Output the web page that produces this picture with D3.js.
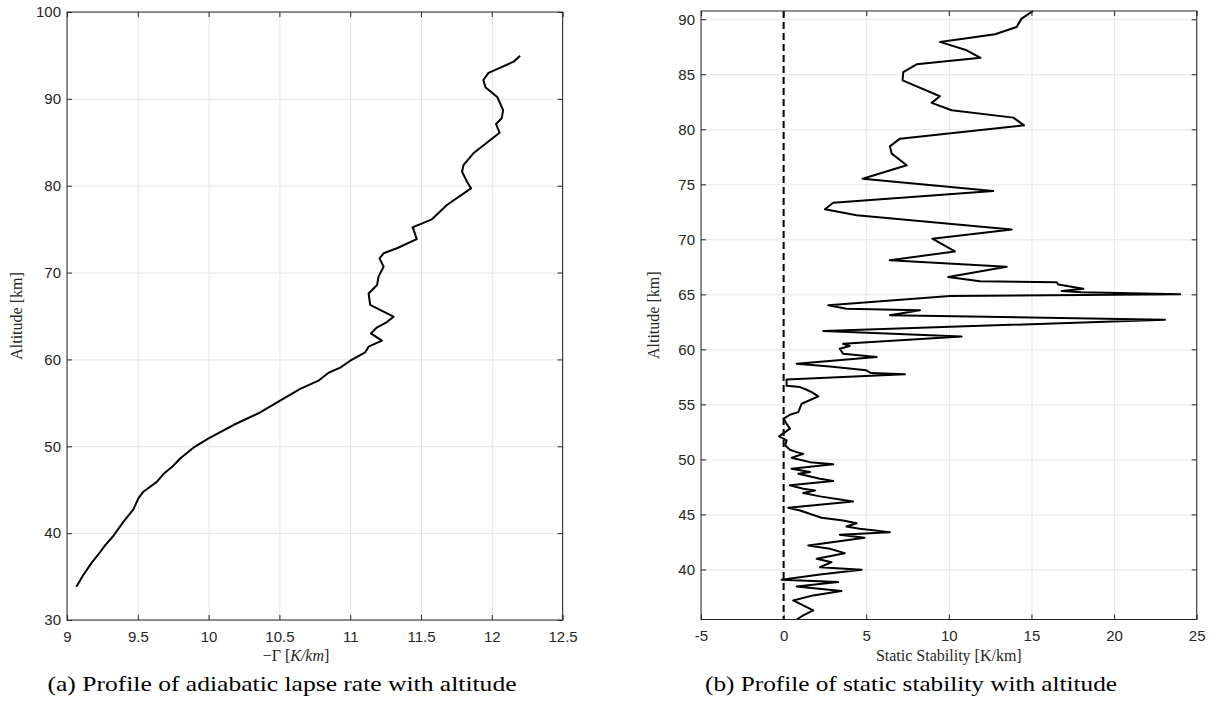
<!DOCTYPE html>
<html>
<head>
<meta charset="utf-8">
<script src="https://cdn.jsdelivr.net/npm/d3@7"></script>
<style>
  html, body { margin: 0; padding: 0; background: #ffffff; }
  svg { display: block; }
</style>
</head>
<body>
<script>
// ---------------- DATA ----------------
// Panel (a): adiabatic lapse rate profile
const lapseAlt = [33.83, 35.18, 36.6, 37.8, 38.6, 39.67, 41.3, 42.74, 44.0, 44.77, 45.9, 46.8, 47.77, 48.6, 49.84, 50.9, 52.45, 53.9, 55.4, 56.6, 57.55, 58.47, 59.05, 59.85, 60.82, 61.47, 62.16, 63.0, 63.7, 64.3, 64.92, 66.27, 67.6, 68.57, 69.53, 70.68, 71.64, 72.22, 72.8, 73.86, 74.98, 75.2, 76.13, 77.78, 79.7, 80.46, 81.6, 82.38, 83.73, 86.1, 87.1, 87.76, 88.7, 90.18, 91.33, 92.17, 93.0, 94.28, 94.97];
const lapseRate = [9.066, 9.115, 9.175, 9.233, 9.269, 9.327, 9.398, 9.469, 9.504, 9.539, 9.634, 9.681, 9.751, 9.799, 9.893, 10.0, 10.175, 10.364, 10.52, 10.647, 10.776, 10.847, 10.93, 11.0, 11.106, 11.13, 11.224, 11.146, 11.19, 11.26, 11.306, 11.141, 11.13, 11.19, 11.2, 11.236, 11.207, 11.236, 11.33, 11.47, 11.447, 11.44, 11.577, 11.683, 11.853, 11.825, 11.79, 11.8, 11.87, 12.055, 12.03, 12.07, 12.08, 12.04, 11.955, 11.94, 11.977, 12.154, 12.2];
const lapseXTicks = [9, 9.5, 10, 10.5, 11, 11.5, 12, 12.5];
const lapseYTicks = [30, 40, 50, 60, 70, 80, 90, 100];

// Panel (b): static stability profile
const stabAlt = [35.45, 35.82, 36.27, 37.18, 37.64, 38.03, 38.45, 38.85, 39.07, 39.55, 39.97, 40.2, 40.66, 40.97, 41.48, 41.88, 42.18, 42.88, 43.15, 43.39, 43.7, 43.9, 44.2, 44.45, 44.7, 45.36, 45.6, 46.18, 46.64, 46.94, 47.18, 47.34, 47.64, 48.03, 48.25, 48.7, 48.85, 49.15, 49.55, 49.75, 50.15, 50.5, 50.66, 50.88, 51.27, 51.73, 52.1, 52.8, 53.24, 53.7, 54.06, 54.3, 55.06, 55.73, 56.12, 56.33, 56.57, 56.7, 57.25, 57.73, 57.85, 58.1, 58.45, 58.7, 59.3, 59.6, 60.06, 60.3, 60.5, 61.18, 61.66, 62.7, 63.1, 63.55, 63.7, 64.0, 64.85, 65.0, 65.2, 65.3, 65.5, 65.9, 66.1, 66.2, 66.57, 67.5, 68.1, 68.9, 70.06, 70.9, 72.18, 72.73, 73.33, 74.4, 75.5, 76.73, 77.79, 78.45, 79.15, 80.36, 81.06, 81.73, 82.4, 83.0, 84.45, 85.2, 85.9, 86.5, 87.18, 87.94, 88.64, 89.3, 90.06, 90.75];
const stabVal = [0.79, 1.19, 1.79, 0.58, 1.79, 3.5, 0.79, 3.3, -0.12, 2.2, 4.72, 2.2, 2.9, 2.0, 3.7, 2.8, 1.49, 4.9, 3.4, 6.43, 4.6, 3.8, 4.42, 3.6, 2.3, 0.99, 0.28, 4.2, 2.2, 1.19, 1.9, 1.19, 0.38, 3.0, 2.2, 0.89, 1.6, 0.48, 3.0, 1.6, 0.48, 1.19, 0.79, 0.38, 0.1, 0.18, -0.27, 0.38, 0.18, 0.0, 0.38, 0.89, 1.09, 2.1, 1.7, 1.39, 0.99, 0.18, 0.18, 7.34, 5.3, 5.0, 2.8, 0.79, 5.63, 3.6, 3.4, 4.0, 3.6, 10.77, 2.4, 23.08, 6.43, 8.25, 3.8, 2.7, 10.07, 24.0, 18.0, 16.83, 18.14, 16.62, 16.53, 11.88, 9.96, 13.5, 6.43, 10.37, 9.0, 13.8, 4.42, 2.5, 3.0, 12.69, 4.78, 7.45, 6.54, 6.43, 7.04, 14.55, 13.9, 10.17, 8.96, 9.46, 7.2, 7.24, 8.05, 11.92, 11.08, 9.46, 12.8, 14.1, 14.4, 15.1];
const stabXTicks = [-5, 0, 5, 10, 15, 20, 25];
const stabYTicks = [40, 45, 50, 55, 60, 65, 70, 75, 80, 85, 90];

const captionA = "(a) Profile of adiabatic lapse rate with altitude";
const captionB = "(b) Profile of static stability with altitude";

// ---------------- DRAWING ----------------
const W = 1212, H = 712;
const svg = d3.select("body").append("svg")
  .attr("width", W).attr("height", H)
  .style("background", "#ffffff");

const AX = "#262626";
const GRID = "#e5e5e5";
const tickFont = "'Liberation Sans', Arial, Helvetica, sans-serif";
const serif = "'Liberation Serif', 'Times New Roman', Times, serif";
const fmt = d => String(d); // MATLAB style: plain hyphen-minus

function panel(o) {
  const x = d3.scaleLinear().domain(o.xDomain).range([o.left, o.right]);
  const y = d3.scaleLinear().domain(o.yDomain).range([o.bottom, o.top]);
  const g = svg.append("g");
  const w = o.right - o.left, h = o.bottom - o.top;

  // grid
  const gx = g.append("g").attr("transform", `translate(0,${o.bottom})`)
    .call(d3.axisBottom(x).tickValues(o.xTicks).tickSize(-h).tickFormat(""));
  const gy = g.append("g").attr("transform", `translate(${o.left},0)`)
    .call(d3.axisLeft(y).tickValues(o.yTicks).tickSize(-w).tickFormat(""));
  [gx, gy].forEach(a => {
    a.select(".domain").remove();
    a.selectAll("line").attr("stroke", GRID).attr("stroke-width", 1);
  });

  if (o.extra) o.extra(g, x, y);

  // data line
  const line = d3.line().x(d => x(d[0])).y(d => y(d[1]));
  g.append("path")
    .datum(o.xs.map((v, i) => [v, o.ys[i]]))
    .attr("fill", "none").attr("stroke", "#000").attr("stroke-width", 2)
    .attr("stroke-linejoin", "round")
    .attr("d", line);

  // axes with inward ticks
  const tk = 5;
  const bottom = g.append("g").attr("transform", `translate(0,${o.bottom})`)
    .call(d3.axisBottom(x).tickValues(o.xTicks).tickSize(-tk).tickPadding(11).tickFormat(fmt));
  const top = g.append("g").attr("transform", `translate(0,${o.top})`)
    .call(d3.axisTop(x).tickValues(o.xTicks).tickSize(-tk).tickFormat(""));
  const left = g.append("g").attr("transform", `translate(${o.left},0)`)
    .call(d3.axisLeft(y).tickValues(o.yTicks).tickSize(-tk).tickPadding(6).tickFormat(fmt));
  const right = g.append("g").attr("transform", `translate(${o.right},0)`)
    .call(d3.axisRight(y).tickValues(o.yTicks).tickSize(-tk).tickFormat(""));
  [bottom, top, left, right].forEach(a => {
    a.select(".domain").remove();
    a.selectAll("line").attr("stroke", AX).attr("stroke-width", 1);
    a.selectAll("text").attr("fill", AX)
      .style("font-family", tickFont).style("font-size", "15px");
  });

  // box
  g.append("rect")
    .attr("x", o.left).attr("y", o.top).attr("width", w).attr("height", h)
    .attr("fill", "none").attr("stroke", AX).attr("stroke-width", 1);

  // y label
  g.append("text")
    .attr("transform", `translate(${o.yLabelX},${(o.top + o.bottom) / 2}) rotate(-90)`)
    .attr("text-anchor", "middle")
    .style("font-family", serif).style("font-size", "16px").attr("fill", AX)
    .text("Altitude [km]");
  return { x, y, g };
}

// Panel (a)
const pa = panel({
  left: 67, right: 562.6, top: 12, bottom: 620,
  xDomain: [9, 12.5], yDomain: [30, 100],
  xTicks: lapseXTicks, yTicks: lapseYTicks,
  xs: lapseRate, ys: lapseAlt,
  yLabelX: 22
});
const xlA = pa.g.append("text")
  .attr("x", 296).attr("y", 661).attr("text-anchor", "middle")
  .style("font-family", serif).style("font-size", "16px").attr("fill", AX);
xlA.append("tspan").text("\u2212\u0393 [");
xlA.append("tspan").style("font-style", "italic").text("K/km");
xlA.append("tspan").text("]");

// Panel (b)
const pb = panel({
  left: 701, right: 1196.7, top: 11, bottom: 619.5,
  xDomain: [-5, 25], yDomain: [35.45, 90.75],
  xTicks: stabXTicks, yTicks: stabYTicks,
  xs: stabVal, ys: stabAlt,
  yLabelX: 659,
  extra: (g, x, y) => {
    g.append("line")
      .attr("x1", x(0)).attr("x2", x(0))
      .attr("y1", y(90.75)).attr("y2", y(35.45))
      .attr("stroke", "#000").attr("stroke-width", 2)
      .attr("stroke-dasharray", "7,4");
  }
});
pb.g.append("text")
  .attr("x", 948.8).attr("y", 661).attr("text-anchor", "middle")
  .style("font-family", serif).style("font-size", "16px").attr("fill", AX)
  .text("Static Stability [K/km]");

// Captions
svg.append("text")
  .attr("x", 282).attr("y", 691).attr("text-anchor", "middle")
  .attr("textLength", 469).attr("lengthAdjust", "spacingAndGlyphs")
  .style("font-family", serif).style("font-size", "22px").attr("fill", "#000")
  .text(captionA);
svg.append("text")
  .attr("x", 911).attr("y", 691).attr("text-anchor", "middle")
  .attr("textLength", 412).attr("lengthAdjust", "spacingAndGlyphs")
  .style("font-family", serif).style("font-size", "22px").attr("fill", "#000")
  .text(captionB);
</script>
</body>
</html>
